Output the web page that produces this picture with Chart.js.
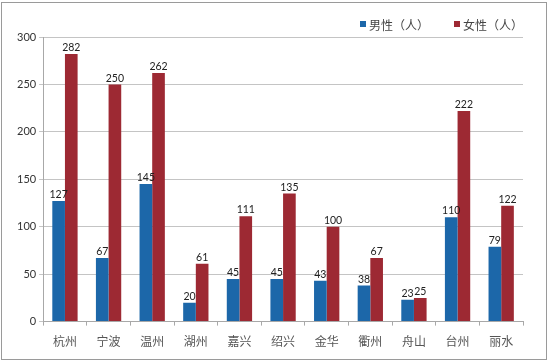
<!DOCTYPE html>
<html>
<head>
<meta charset="utf-8">
<script src="https://cdn.jsdelivr.net/npm/chart.js@4.4.1/dist/chart.umd.min.js"></script>
<style>
html,body{margin:0;padding:0;background:#fff;}
#wrap{position:relative;width:551px;height:363px;}
#frame{position:absolute;left:1px;top:2px;width:544px;height:356px;border:1px solid #9a9a9a;pointer-events:none;}
canvas{position:absolute;left:0;top:0;}
</style>
</head>
<body>
<div id="wrap">
<canvas id="c" width="551" height="363"></canvas>
<div id="frame"></div>
</div>
<script>
const categories = ['杭州','宁波','温州','湖州','嘉兴','绍兴','金华','衢州','舟山','台州','丽水'];
const seriesNames = ['男性（人）','女性（人）'];
const maleValues = [127, 67, 145, 20, 45, 45, 43, 38, 23, 110, 79];
const femaleValues = [282, 250, 262, 61, 111, 135, 100, 67, 25, 222, 122];
const yTicks = [0, 50, 100, 150, 200, 250, 300];

const colors = ['#1c67a9', '#9d2933'];

const valueLabels = {
  id: 'valueLabels',
  afterDatasetsDraw(chart) {
    const ctx = chart.ctx;
    ctx.save();
    ctx.font = '10.5px Lato, "Liberation Sans", sans-serif';
    ctx.fillStyle = '#222';
    ctx.textAlign = 'center';
    ctx.textBaseline = 'bottom';
    chart.data.datasets.forEach((ds, i) => {
      const meta = chart.getDatasetMeta(i);
      meta.data.forEach((el, j) => {
        ctx.fillText(String(ds.data[j]), el.x, el.y - 1);
      });
    });
    ctx.restore();
  }
};

const customLegend = {
  id: 'customLegend',
  afterDraw(chart) {
    const ctx = chart.ctx;
    ctx.save();
    ctx.font = '12px "Noto Sans CJK SC", sans-serif';
    ctx.textBaseline = 'middle';
    ctx.textAlign = 'left';
    const y = 24;
    const box = 6, gap = 3, itemGap = 25;
    const items = chart.data.datasets.map(ds => ({text: ds.label, color: ds.backgroundColor}));
    const widths = items.map(it => box + gap + ctx.measureText(it.text).width);
    let total = widths.reduce((a, b) => a + b, 0) + itemGap * (items.length - 1);
    let x = chart.chartArea.right - total;
    items.forEach((it, k) => {
      ctx.fillStyle = it.color;
      ctx.fillRect(x, y - box / 2, box, box);
      ctx.fillStyle = '#444';
      ctx.fillText(it.text, x + box + gap, y + 1);
      x += widths[k] + itemGap;
    });
    ctx.restore();
  }
};

new Chart(document.getElementById('c'), {
  type: 'bar',
  data: {
    labels: categories,
    datasets: [
      {label: seriesNames[0], data: maleValues, backgroundColor: colors[0], borderWidth: 0},
      {label: seriesNames[1], data: femaleValues, backgroundColor: colors[1], borderWidth: 0}
    ]
  },
  options: {
    responsive: false,
    animation: false,
    devicePixelRatio: 1,
    layout: {padding: {top: 37, right: 28, left: 14, bottom: 5}},
    datasets: {bar: {categoryPercentage: 0.58, barPercentage: 1.0}},
    plugins: {
      legend: {display: false},
      tooltip: {enabled: false}
    },
    scales: {
      x: {
        offset: true,
        grid: {offset: true, drawOnChartArea: false, drawTicks: true, tickLength: 4, color: '#a8a8a8'},
        border: {color: '#a8a8a8'},
        ticks: {
          padding: 9,
          color: '#555',
          font: {family: '"Noto Sans CJK SC", sans-serif', size: 12}
        }
      },
      y: {
        min: 0,
        max: 300,
        afterBuildTicks(scale) { scale.ticks = yTicks.map(v => ({value: v})); },
        grid: {color: '#c4c4c4', drawTicks: true, tickLength: 4},
        border: {color: '#a8a8a8'},
        ticks: {
          padding: 3,
          color: '#333',
          font: {family: 'Lato, "Liberation Sans", sans-serif', size: 11}
        }
      }
    }
  },
  plugins: [valueLabels, customLegend]
});
</script>
</body>
</html>
